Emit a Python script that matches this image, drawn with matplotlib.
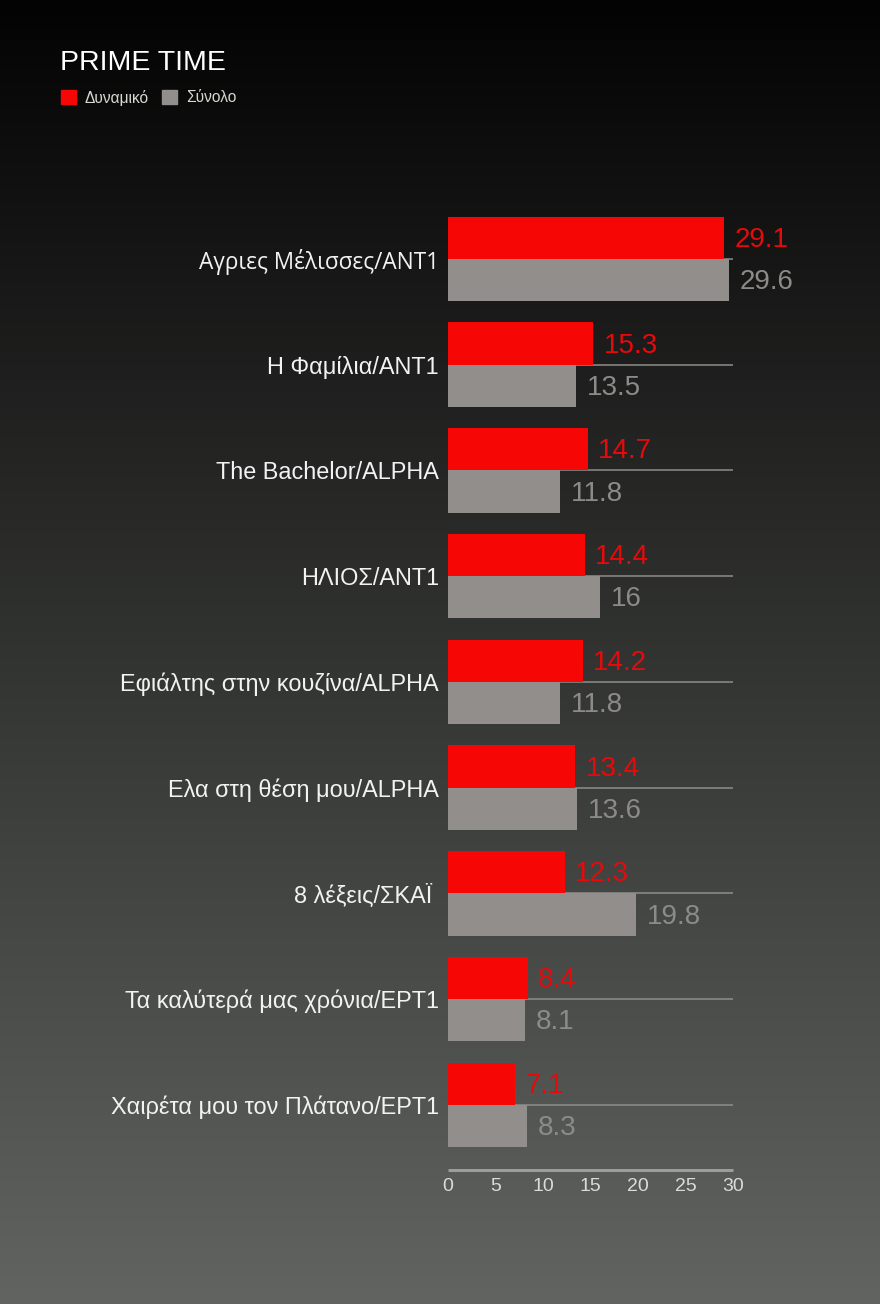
import numpy as np
import matplotlib
matplotlib.use("Agg")
import matplotlib.pyplot as plt
from matplotlib.patches import Patch

plt.rcParams['font.family'] = ['Liberation Sans', 'DejaVu Sans']

# data
shows = ["Αγριες Μέλισσες/ANT1", "Η Φαμίλια/ΑΝΤ1", "The Bachelor/ALPHA", "ΗΛΙΟΣ/ΑΝΤ1",
         "Εφιάλτης στην κουζίνα/ALPHA", "Ελα στη θέση μου/ALPHA", "8 λέξεις/ΣΚΑΪ ",
         "Τα καλύτερά μας χρόνια/ΕΡΤ1", "Χαιρέτα μου τον Πλάτανο/ΕΡΤ1"]
dynamiko = [29.1, 15.3, 14.7, 14.4, 14.2, 13.4, 12.3, 8.4, 7.1]
synolo = [29.6, 13.5, 11.8, 16, 11.8, 13.6, 19.8, 8.1, 8.3]
series_names = ["Δυναμικό", "Σύνολο"]
xticks = [0, 5, 10, 15, 20, 25, 30]

red = '#f70606'
grey = '#918e8c'

fig = plt.figure(figsize=(8.8, 13.04), dpi=100)

# background gradient
bg = fig.add_axes([0, 0, 1, 1])
top = np.array([0x03, 0x03, 0x03]) / 255
bot = np.array([0x61, 0x64, 0x60]) / 255
t = np.linspace(0, 1, 512)[:, None]
grad = top + (bot - top) * t
bg.imshow(grad[:, None, :], aspect='auto', extent=[0, 1, 0, 1])
bg.axis('off')

ax = fig.add_axes([0.5091, 0.1028, 0.3239, 0.7485])
ax.patch.set_alpha(0)

y = np.arange(len(shows))
h = 0.4
ax.barh(y - h / 2, dynamiko, height=h, color=red, zorder=3)
ax.barh(y + h / 2, synolo, height=h, color=grey, zorder=3)

for i in range(len(shows)):
    ax.annotate(f"{dynamiko[i]:g}", (dynamiko[i], y[i] - h / 2), xytext=(7.5, -1.5),
                textcoords='offset points', va='center', ha='left',
                color='#e60a0a', fontsize=20, clip_on=False)
    ax.annotate(f"{synolo[i]:g}", (synolo[i], y[i] + h / 2), xytext=(7.5, -1.5),
                textcoords='offset points', va='center', ha='left',
                color='#8d8b89', fontsize=20, clip_on=False)

ax.set_xlim(0, 30)
ax.set_ylim(len(shows) - 1 + 0.615, -0.615)
ax.set_yticks(y)
ax.set_yticklabels(shows)
ax.set_xticks(xticks)
ax.tick_params(axis='y', length=0, pad=6.5, labelsize=16.9, labelcolor='#f2f2f2')
ax.tick_params(axis='x', length=0, pad=5.5, labelsize=14, labelcolor='#dcdcd4')
ax.get_yticklabels()[0].set_family(['Open Sans', 'DejaVu Sans'])
ax.get_yticklabels()[0].set_fontsize(16.3)

ax.grid(axis='y', color='#8e8d8a', linewidth=1.1, zorder=1)
ax.grid(axis='x', visible=False)
for s in ['top', 'right', 'left']:
    ax.spines[s].set_visible(False)
ax.spines['bottom'].set_color('#9e9d98')
ax.spines['bottom'].set_linewidth(2.2)
ax.spines['bottom'].set_capstyle('butt')

fig.text(60 / 880, 1 - 63 / 1304, "PRIME TIME", color='white', fontsize=20.5, va='center', ha='left')

handles = [Patch(color=red), Patch(color=grey)]
fig.legend(handles, series_names, loc='center left', bbox_to_anchor=(61 / 880, 1 - 97.5 / 1304),
           ncol=2, frameon=False, fontsize=11.2, labelcolor='#d8d8d0',
           handlelength=0.98, handleheight=0.98, handletextpad=0.55, columnspacing=0.85,
           borderpad=0, borderaxespad=0)

fig.savefig('out.png', dpi=100)
